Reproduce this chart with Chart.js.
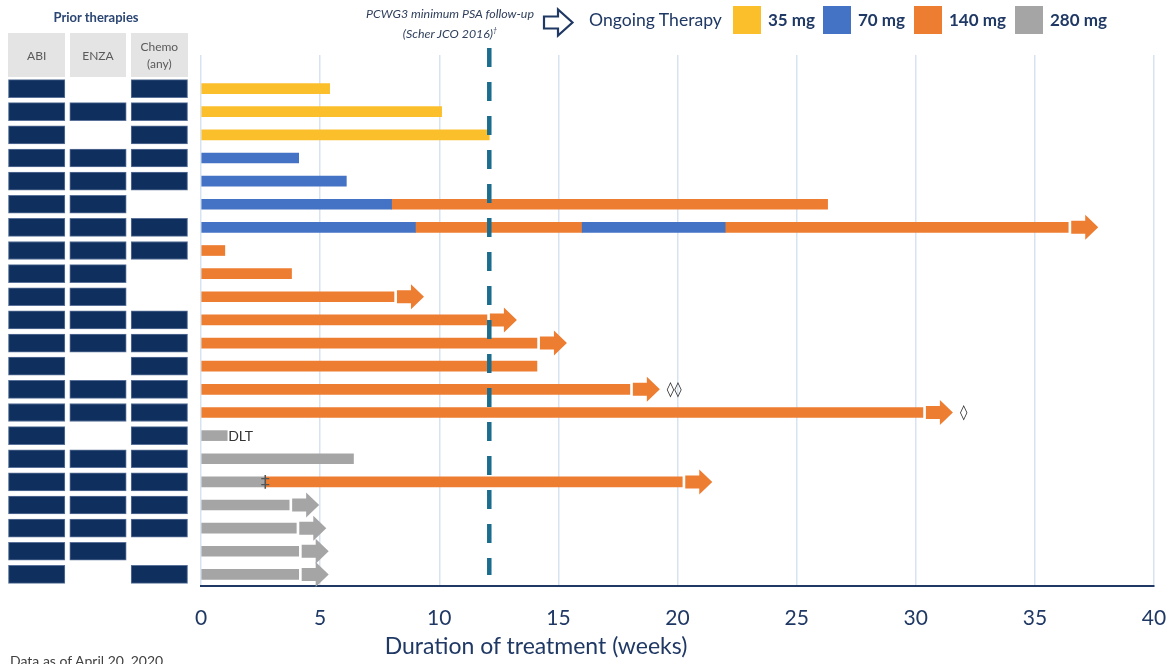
<!DOCTYPE html>
<html>
<head>
<meta charset="utf-8">
<script src="https://cdn.jsdelivr.net/npm/chart.js@4.4.1/dist/chart.umd.min.js"></script>
<style>
  html, body { margin: 0; padding: 0; background: #fff; }
  #wrap { position: relative; width: 1172px; height: 664px; overflow: hidden; font-family: Lato, "Open Sans", sans-serif; }
  canvas { position: absolute; left: 0; top: 0; }
  .abs { position: absolute; white-space: nowrap; }
  .hdr { position: absolute; top: 33px; height: 44px; background: #e4e4e4; color: #5a5a5a; font-size: 12px;
         display: flex; align-items: center; justify-content: center; text-align: center; line-height: 17px; }
  .leg-box { position: absolute; top: 6px; width: 28px; height: 28px; }
  .leg-txt { position: absolute; top: 8px; font-size: 17px; font-weight: bold; color: #1f3864; line-height: 24px; }
</style>
</head>
<body>
<div id="wrap">
  <canvas id="main" width="1172" height="664"></canvas>
  <canvas id="prior" width="200" height="664"></canvas>

  <div class="abs" style="left:0;width:192px;top:9px;text-align:center;font-weight:bold;font-size:13px;color:#2b4673;">Prior therapies</div>
  <div id="headers"></div>

  <div class="abs" style="left:450px;top:6px;transform:translateX(-50%);font-style:italic;font-size:12.4px;color:#2f3f5c;text-align:center;line-height:16px;">
    PCWG3 minimum PSA follow-up<br>(Scher JCO 2016)<sup style="font-size:7px;">†</sup>
  </div>
  <svg class="abs" style="left:542px;top:7px;" width="33" height="31" viewBox="0 0 33 31">
    <path d="M2,9.5 H16 V2.5 L30.5,15.5 L16,28.5 V21.5 H2 Z" fill="none" stroke="#1f3864" stroke-width="2.2" stroke-linejoin="miter"/>
  </svg>
  <div class="abs" style="left:589px;top:7px;font-size:17.6px;color:#1f3864;line-height:26px;">Ongoing Therapy</div>
  <div id="legend"></div>

  <div class="abs" style="left:536px;top:630px;transform:translateX(-50%);font-size:23px;color:#1f3864;line-height:30px;">Duration of treatment (weeks)</div>
  <div class="abs" style="left:10px;top:652px;font-size:14px;color:#404040;line-height:18px;">Data as of April 20, 2020</div>
</div>

<script>
// ---- data -------------------------------------------------------------
const doseLevels = [35, 70, 140, 280];
const doseColors = ['#FCBF2C', '#4472C4', '#ED7D31', '#A5A5A5'];

// dose of each consecutive treatment segment, per patient (top to bottom)
const segDose = [
  [35], [35], [35],
  [70], [70], [70, 140], [70, 140, 70, 140],
  [140], [140], [140], [140], [140], [140], [140], [140],
  [280], [280], [280, 140], [280], [280], [280], [280]
];
// week at which each segment ends
const segEnd = [
  [5.4], [10.1], [12.1],
  [4.1], [6.1], [8.0, 26.3], [9.0, 16.0, 22.0, 36.4],
  [1.0], [3.8], [8.1], [12.0], [14.1], [14.1], [18.0], [30.3],
  [1.1], [6.4], [2.7, 20.2], [3.7], [4.0], [4.1], [4.1]
];
// still on therapy at data cut-off
const ongoing = [0,0,0, 0,0,0,1, 0,0,1,1,1,0,1,1, 0,0,1,1,1,1,1];
// text shown after the end of a bar
const endNote = ['','','', '','','','', '','','','','','','\u25CA\u25CA','\u25CA', 'DLT','','','','','',''];
// marker drawn where the dose changed
const changeMark = ['','','', '','','','', '','','','','','','','', '','','\u2021','','','',''];

// prior therapies (1 = received)
const priorLabels = ['ABI', 'ENZA', 'Chemo<br>(any)'];
const priorAbi   = [1,1,1,1,1,1,1,1,1,1,1,1,1,1,1,1,1,1,1,1,1,1];
const priorEnza  = [0,1,0,1,1,1,1,1,1,1,1,1,0,1,1,0,1,1,1,1,1,0];
const priorChemo = [1,1,1,1,1,0,1,1,0,0,1,1,1,1,1,1,1,1,1,1,0,1];

const psaFollowUp = 12.1;   // weeks
const xTicks = [0, 5, 10, 15, 20, 25, 30, 35, 40];

// ---- shared layout ---------------------------------------------------
const nRows = segDose.length;
const yMin = -1.45, yMax = nRows - 0.5;
const navy = '#1f3864';
const rowScale = { type: 'linear', reverse: true, min: yMin, max: yMax, offset: false, display: false };

// ---- swimmer bars ----------------------------------------------------
const datasets = doseLevels.map((d, i) => {
  const data = [];
  segDose.forEach((doses, r) => {
    let start = 0;
    doses.forEach((dose, k) => {
      const end = segEnd[r][k];
      if (dose === d) data.push({ x: [start, end], y: r });
      start = end;
    });
  });
  return {
    label: d + ' mg', data, backgroundColor: doseColors[i],
    grouped: false, barThickness: 10, borderWidth: 0, borderSkipped: false
  };
});

function drawArrow(ctx, xEnd, yc, color) {
  const x0 = xEnd + 3, xb = x0 + 14, xt = x0 + 27;
  ctx.beginPath();
  ctx.moveTo(x0, yc - 6.5);
  ctx.lineTo(xb, yc - 6.5);
  ctx.lineTo(xb, yc - 12.5);
  ctx.lineTo(xt, yc);
  ctx.lineTo(xb, yc + 12.5);
  ctx.lineTo(xb, yc + 6.5);
  ctx.lineTo(x0, yc + 6.5);
  ctx.closePath();
  ctx.fillStyle = color;
  ctx.fill();
  return xt;
}

const swimmerExtras = {
  id: 'swimmerExtras',
  afterDatasetsDraw(chart) {
    const { ctx, scales: { x, y }, chartArea } = chart;
    ctx.save();
    segEnd.forEach((ends, r) => {
      const yc = y.getPixelForValue(r);
      const xe = x.getPixelForValue(ends[ends.length - 1]);
      const lastDose = segDose[r][segDose[r].length - 1];
      let xAfter = xe;
      if (ongoing[r]) {
        xAfter = drawArrow(ctx, xe, yc, doseColors[doseLevels.indexOf(lastDose)]);
      }
      if (endNote[r]) {
        const isText = endNote[r] === 'DLT';
        ctx.fillStyle = '#333';
        ctx.font = isText ? '14px Lato, sans-serif' : '15px "DejaVu Sans", sans-serif';
        ctx.textAlign = 'left';
        ctx.textBaseline = 'middle';
        ctx.fillText(endNote[r], xAfter + (isText ? 1 : 7), yc + 1);
      }
      if (changeMark[r]) {
        ctx.fillStyle = '#555';
        ctx.font = '18px "DejaVu Sans", sans-serif';
        ctx.textAlign = 'center';
        ctx.textBaseline = 'middle';
        ctx.fillText(changeMark[r], x.getPixelForValue(ends[0]), yc + 1);
      }
    });
    // minimum PSA follow-up reference line
    const xp = x.getPixelForValue(psaFollowUp);
    ctx.beginPath();
    ctx.setLineDash([19, 15]);
    ctx.lineWidth = 4.5;
    ctx.strokeStyle = '#1b6d8e';
    ctx.moveTo(xp, chartArea.top - 7);
    ctx.lineTo(xp, chartArea.bottom - 11);
    ctx.stroke();
    ctx.restore();
  }
};

const mainChart = new Chart(document.getElementById('main'), {
  type: 'bar',
  data: { datasets },
  options: {
    indexAxis: 'y',
    responsive: false,
    animation: false,
    layout: { padding: { left: 201, right: 18, top: 55, bottom: 0 } },
    plugins: { legend: { display: false }, tooltip: { enabled: false } },
    scales: {
      y: rowScale,
      x: {
        type: 'linear', min: 0, max: 40,
        afterBuildTicks: s => { s.ticks = xTicks.map(v => ({ value: v })); },
        afterFit: s => { s.height = 78; s.paddingLeft = 0; s.paddingRight = 0; },
        ticks: { color: navy, font: { family: 'Lato', size: 21 }, padding: 20 },
        grid: { color: '#d8e3f1', lineWidth: 1.5, drawTicks: false },
        border: { color: navy, width: 2 }
      }
    }
  },
  plugins: [swimmerExtras]
});

// ---- prior therapy grid ----------------------------------------------
const priorSeries = [priorAbi, priorEnza, priorChemo];
const priorChart = new Chart(document.getElementById('prior'), {
  type: 'bar',
  data: {
    datasets: priorSeries.map((flags, c) => ({
      data: flags.map((f, r) => f ? { x: [c + 0.04, c + 0.96], y: r } : null).filter(Boolean),
      backgroundColor: '#0f2f5f', borderColor: '#5a7299', borderWidth: 1,
      grouped: false, barThickness: 18, borderSkipped: false
    }))
  },
  options: {
    indexAxis: 'y',
    responsive: false,
    animation: false,
    layout: { padding: { left: 6, right: 10, top: 55, bottom: 78 } },
    plugins: { legend: { display: false }, tooltip: { enabled: false } },
    scales: {
      y: rowScale,
      x: { type: 'linear', min: 0, max: 3, display: false }
    }
  }
});

// column headers aligned to the grid columns
const px = priorChart.scales.x;
document.getElementById('headers').innerHTML = priorLabels.map((t, c) => {
  const l = px.getPixelForValue(c + 0.04), r = px.getPixelForValue(c + 0.96);
  return `<div class="hdr" style="left:${l}px;width:${r - l}px;">${t}</div>`;
}).join('');

// dose legend
const legendX = [733, 823, 914, 1015];
document.getElementById('legend').innerHTML = doseLevels.map((d, i) =>
  `<div class="leg-box" style="left:${legendX[i]}px;background:${doseColors[i]};"></div>` +
  `<div class="leg-txt" style="left:${legendX[i] + 35}px;">${d} mg</div>`
).join('');
</script>
</body>
</html>
